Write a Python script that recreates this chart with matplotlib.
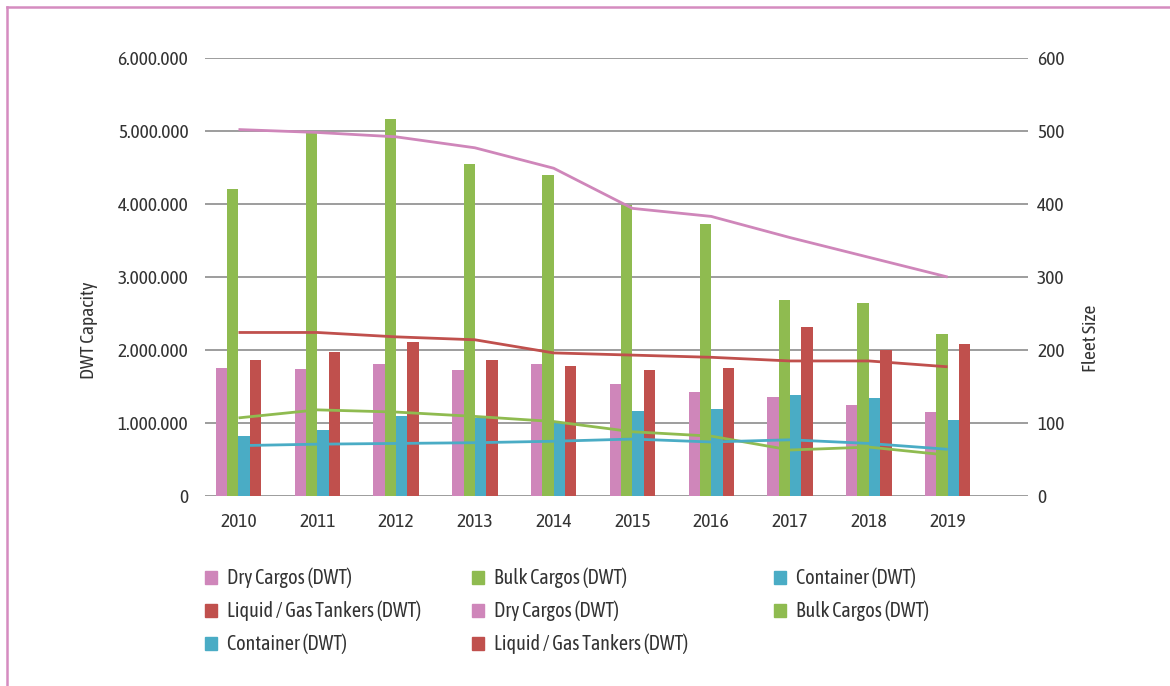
import matplotlib.pyplot as plt
import numpy as np
from matplotlib.lines import Line2D
from matplotlib.patches import Patch
from matplotlib.ticker import FuncFormatter

plt.rcParams["font.family"] = ["Asap Condensed", "Open Sans", "DejaVu Sans"]
plt.rcParams["font.stretch"] = "condensed"

years = ["2010", "2011", "2012", "2013", "2014", "2015", "2016", "2017", "2018", "2019"]

# DWT capacity per ship type (bars, left axis)
dry_dwt = [1750000, 1740000, 1810000, 1730000, 1810000, 1540000, 1430000, 1360000, 1250000, 1150000]
bulk_dwt = [4210000, 4980000, 5160000, 4550000, 4400000, 3980000, 3720000, 2690000, 2650000, 2220000]
container_dwt = [823000, 905000, 1097000, 1070000, 1000000, 1165000, 1190000, 1385000, 1345000, 1040000]
tanker_dwt = [1866000, 1975000, 2110000, 1866000, 1780000, 1730000, 1760000, 2320000, 2000000, 2080000]

# Fleet size per ship type (lines, right axis)
dry_fleet = [502, 498, 492, 477, 449, 394, 383, 354, 327, 300]
bulk_fleet = [107, 118, 115, 109, 102, 88, 82, 63, 67, 56]
container_fleet = [69, 71, 72, 73, 75, 78, 74, 77, 72, 64]
tanker_fleet = [224, 224, 218, 214, 196, 193, 190, 185, 185, 177]

PINK = "#CF86BA"
GREEN = "#8FBB50"
BLUE = "#4AACC5"
RED = "#C0504D"
TEXT = "#333333"
FS = 14

fig = plt.figure(figsize=(11.7, 6.86), dpi=100)
ax = fig.add_axes([205 / 1170, 1 - 496 / 686, (1028 - 205) / 1170, (496 - 58) / 686])
ax2 = ax.twinx()

x = np.arange(len(years))
w = 0.144
bar_series = [(dry_dwt, PINK), (bulk_dwt, GREEN), (container_dwt, BLUE), (tanker_dwt, RED)]
for k, (vals, col) in enumerate(bar_series):
    ax.bar(x + (k - 1.5) * w, vals, width=w, color=col, zorder=2)

line_series = [(dry_fleet, PINK), (tanker_fleet, RED), (bulk_fleet, GREEN), (container_fleet, BLUE)]
for vals, col in line_series:
    ax2.plot(x, vals, color=col, linewidth=2.0, solid_capstyle="butt")

ax.set_xlim(-0.425, 10.02)
ax.set_ylim(0, 6000000)
ax2.set_ylim(0, 600)
ax.set_yticks(np.arange(0, 6000001, 1000000))
ax2.set_yticks(np.arange(0, 601, 100))
ax.yaxis.set_major_formatter(FuncFormatter(lambda v, p: f"{int(v):,}".replace(",", ".")))
ax.grid(axis="y", color="#8c8c8c", linewidth=1.2, zorder=0)
ax.set_axisbelow(True)

ax.set_xticks(x)
ax.set_xticklabels(years)
for a in (ax, ax2):
    for s in a.spines.values():
        s.set_visible(False)
    a.tick_params(length=0, labelsize=FS, colors=TEXT)
ax.tick_params(axis="y", pad=12)
ax2.tick_params(axis="y", pad=6.5)
ax.tick_params(axis="x", pad=12)

ax.set_ylabel("DWT Capacity", fontsize=FS, color=TEXT)
ax.yaxis.set_label_coords((98 - 205) / 823, (496 - 330) / 438)
ax2.set_ylabel("Fleet Size", fontsize=FS, color=TEXT)
ax2.yaxis.set_label_coords((1082 - 205) / 823, (496 - 338) / 438)

# Legend laid out as three columns, filled row by row
columns = [
    (205, [("Dry Cargos (DWT)", PINK), ("Liquid / Gas Tankers (DWT)", RED), ("Container (DWT)", BLUE)]),
    (472, [("Bulk Cargos (DWT)", GREEN), ("Dry Cargos (DWT)", PINK), ("Liquid / Gas Tankers (DWT)", RED)]),
    (774, [("Container (DWT)", BLUE), ("Bulk Cargos (DWT)", GREEN)]),
]
for left, entries in columns:
    handles = [Patch(color=c, label=lab) for lab, c in entries]
    leg = fig.legend(handles=handles, loc="upper left",
                     bbox_to_anchor=(left / 1170, 1 - 568 / 686), frameon=False,
                     fontsize=14.5, handlelength=0.6, handleheight=0.6,
                     handletextpad=0.5, labelspacing=0.62, borderpad=0, borderaxespad=0)
    for t in leg.get_texts():
        t.set_color(TEXT)

# Frame lines on the top and left of the figure
fig.add_artist(Line2D([7 / 1170, 1], [1 - 7 / 686, 1 - 7 / 686], color="#D58CC0", linewidth=1.8))
fig.add_artist(Line2D([7 / 1170, 7 / 1170], [0, 1 - 7 / 686], color="#D58CC0", linewidth=1.8))

fig.savefig("out.png", dpi=100)
